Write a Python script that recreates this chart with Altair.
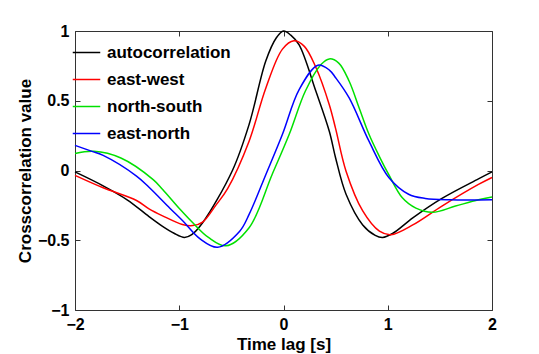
import altair as alt
import pandas as pd

series_names = ["autocorrelation", "east-west", "north-south", "east-north"]
series_colors = ["#000000", "#ff0000", "#00e000", "#0000ff"]

auto_x = [-2.0, -1.73, -1.5, -1.29, -1.16, -1.05, -0.95, -0.88, -0.776, -0.49, -0.33, -0.17, -0.07, 0.0, 0.07, 0.15, 0.31, 0.44, 0.50, 0.60, 0.76, 0.88, 0.95, 1.05, 1.24, 1.52, 1.87, 2.0]
auto_y = [-0.01, -0.11, -0.21, -0.33, -0.40, -0.45, -0.48, -0.46, -0.375, 0.0, 0.33, 0.785, 0.95, 1.0, 0.97, 0.90, 0.57, 0.28, 0.09, -0.17, -0.39, -0.465, -0.48, -0.45, -0.34, -0.20, -0.06, -0.01]

ew_x = [-2.0, -1.73, -1.41, -1.29, -1.16, -0.97, -0.87, -0.776, -0.65, -0.536, -0.33, -0.17, -0.01, 0.10, 0.20, 0.31, 0.44, 0.50, 0.60, 0.76, 0.92, 1.03, 1.24, 1.52, 1.87, 2.0]
ew_y = [-0.035, -0.124, -0.215, -0.275, -0.325, -0.387, -0.395, -0.37, -0.25, -0.13, 0.21, 0.59, 0.87, 0.93, 0.89, 0.74, 0.47, 0.30, -0.005, -0.29, -0.435, -0.46, -0.39, -0.255, -0.10, -0.05]

ns_x = [-2.0, -1.82, -1.56, -1.25, -1.159, -0.99, -0.87, -0.72, -0.552, -0.33, -0.11, 0.055, 0.21, 0.36, 0.44, 0.53, 0.63, 0.725, 0.82, 0.92, 1.01, 1.14, 1.27, 1.43, 1.65, 1.87, 2.0]
ns_y = [0.122, 0.138, 0.09, -0.065, -0.136, -0.28, -0.375, -0.48, -0.54, -0.41, -0.03, 0.26, 0.57, 0.76, 0.80, 0.77, 0.64, 0.45, 0.26, 0.10, -0.03, -0.196, -0.27, -0.30, -0.255, -0.21, -0.19]

en_x = [-2.0, -1.83, -1.73, -1.41, -1.29, -1.09, -0.967, -0.80, -0.632, -0.42, -0.33, -0.17, -0.01, 0.15, 0.33, 0.44, 0.50, 0.63, 0.82, 1.01, 1.20, 1.36, 1.6, 2.0]
en_y = [0.18, 0.135, 0.108, -0.04, -0.12, -0.27, -0.36, -0.49, -0.55, -0.435, -0.315, -0.03, 0.26, 0.58, 0.755, 0.72, 0.665, 0.52, 0.21, -0.05, -0.17, -0.20, -0.21, -0.21]

x_ticks = [-2, -1, 0, 1, 2]
y_ticks = [-1, -0.5, 0, 0.5, 1]

rows = []
for name, xs, ys in zip(series_names, [auto_x, ew_x, ns_x, en_x], [auto_y, ew_y, ns_y, en_y]):
    for i, (xv, yv) in enumerate(zip(xs, ys)):
        rows.append({"series": name, "lag": xv, "value": yv, "order": i})
df = pd.DataFrame(rows)

FONT = "Liberation Sans"
xscale = alt.Scale(domain=[-2, 2], nice=False, zero=False)
yscale = alt.Scale(domain=[-1, 1], nice=False, zero=False)

label_axis_common = dict(ticks=False, domain=False, grid=False, labelFont=FONT, labelFontSize=16,
                         labelFontWeight="bold", labelColor="#000000", labelOverlap=False,
                         labelFlush=False, titleFont=FONT, titleFontWeight="bold",
                         titleColor="#000000")

lines = alt.Chart(df).mark_line(strokeWidth=1.5, interpolate="catmull-rom").encode(
    x=alt.X("lag:Q", scale=xscale,
            axis=alt.Axis(orient="bottom", values=x_ticks, format="~g", labelPadding=6,
                          title="Time lag [s]", titleFontSize=17, titleBaseline="alphabetic",
                          titleY=39, **label_axis_common)),
    y=alt.Y("value:Q", scale=yscale,
            axis=alt.Axis(orient="left", values=y_ticks, format="~g", labelPadding=6,
                          title="Crosscorrelation value", titleFontSize=17, titlePadding=3,
                          **label_axis_common)),
    color=alt.Color("series:N", scale=alt.Scale(domain=series_names, range=series_colors),
                    legend=alt.Legend(orient="none", legendX=-3, legendY=7, title=None,
                                      symbolType="stroke", symbolSize=756, symbolStrokeWidth=1.5,
                                      labelFont=FONT, labelFontSize=17, labelFontWeight="bold",
                                      labelColor="#000000", labelOffset=6, rowPadding=4, padding=0)),
    order="order:Q",
)

tick_common = dict(labels=False, ticks=True, tickSize=5, tickColor="#333333", tickWidth=1,
                   domain=False, grid=False, title=None, offset=-5)

ticks_bl = alt.Chart(df).mark_line(opacity=0).encode(
    x=alt.X("lag:Q", scale=xscale, axis=alt.Axis(orient="bottom", values=x_ticks, **tick_common)),
    y=alt.Y("value:Q", scale=yscale, axis=alt.Axis(orient="left", values=y_ticks, **tick_common)),
    detail="series:N",
)

ticks_tr = alt.Chart(df).mark_line(opacity=0).encode(
    x=alt.X("lag:Q", scale=xscale, axis=alt.Axis(orient="top", values=x_ticks, **tick_common)),
    y=alt.Y("value:Q", scale=yscale, axis=alt.Axis(orient="right", values=y_ticks, **tick_common)),
    detail="series:N",
)

chart = alt.layer(lines, ticks_bl, ticks_tr).resolve_axis(
    x="independent", y="independent"
).properties(
    width=417, height=279,
    padding={"left": 67, "top": 23, "right": 38, "bottom": 44},
    autosize=alt.AutoSizeParams(type="none"),
    background="#ffffff",
).configure_view(stroke="#333333", strokeWidth=1)

chart.save("out.html", embed_options={"renderer": "svg", "actions": False})
